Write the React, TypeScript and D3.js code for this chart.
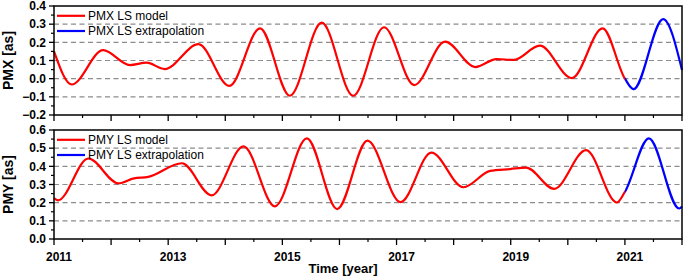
import React from 'react';
import * as d3 from 'd3';

// ---- data ----
const pmxModelT = [2011.0, 2011.31, 2011.86, 2012.33, 2012.62, 2012.94, 2013.53, 2014.07, 2014.61, 2015.13, 2015.69, 2016.24, 2016.78, 2017.31, 2017.85, 2018.38, 2018.75, 2019.05, 2019.51, 2020.07, 2020.61, 2021.0];
const pmxModelV = [0.15, -0.032, 0.157, 0.075, 0.088, 0.053, 0.19, -0.04, 0.277, -0.094, 0.308, -0.094, 0.283, -0.035, 0.204, 0.064, 0.108, 0.103, 0.182, 0.003, 0.277, 0.0];
const pmxExtT = [2021.0, 2021.15, 2021.67, 2022.0];
const pmxExtV = [0.0, -0.058, 0.328, 0.048];

const pmyModelT = [2011.0, 2011.07, 2011.6, 2012.13, 2012.4, 2012.65, 2013.24, 2013.76, 2014.32, 2014.87, 2015.43, 2015.96, 2016.49, 2017.07, 2017.61, 2018.17, 2018.64, 2018.99, 2019.27, 2019.76, 2020.32, 2020.86, 2021.0];
const pmyModelV = [0.225, 0.213, 0.443, 0.306, 0.334, 0.342, 0.417, 0.24, 0.51, 0.18, 0.554, 0.165, 0.541, 0.203, 0.476, 0.285, 0.375, 0.385, 0.393, 0.276, 0.489, 0.201, 0.26];
const pmyExtT = [2021.0, 2021.42, 2021.95, 2022.0];
const pmyExtV = [0.26, 0.554, 0.168, 0.178];

const xMajorYears = [2011, 2012, 2013, 2014, 2015, 2016, 2017, 2018, 2019, 2020, 2021, 2022];
const xMinorYears = [2011.5, 2012.5, 2013.5, 2014.5, 2015.5, 2016.5, 2017.5, 2018.5, 2019.5, 2020.5, 2021.5];
const xLabelYears = [2011, 2013, 2015, 2017, 2019, 2021];
const pmxTicks = [-0.2, -0.1, 0.0, 0.1, 0.2, 0.3, 0.4];
const pmxGrid = [-0.1, 0.0, 0.1, 0.2, 0.3];
const pmyTicks = [0.0, 0.1, 0.2, 0.3, 0.4, 0.5, 0.6];
const pmyGrid = [0.1, 0.2, 0.3, 0.4, 0.5];
const splitYear = 2021.0;

// ---- layout ----
const W = 685, H = 278;
const L = 54, R = 682;
const FONT = "'Liberation Sans', Arial, Helvetica, sans-serif";

const x = d3.scaleLinear().domain([2011, 2022]).range([L, R]);
const fmt = d3.format('.1f');

type PanelProps = {
  id: string;
  top: number;
  bottom: number;
  domain: [number, number];
  ticks: number[];
  grid: number[];
  modelT: number[];
  modelV: number[];
  extT: number[];
  extV: number[];
  ylabel: string;
  legend: [string, string];
  showXLabels: boolean;
};

function Panel(p: PanelProps) {
  const y = d3.scaleLinear().domain(p.domain).range([p.bottom, p.top]);
  const pts: [number, number][] = [];
  p.modelT.forEach((t, i) => pts.push([t, p.modelV[i]]));
  p.extT.forEach((t, i) => {
    if (i === 0 && t === p.modelT[p.modelT.length - 1]) return;
    pts.push([t, p.extV[i]]);
  });
  const line = d3.line<[number, number]>()
    .x(d => x(d[0]))
    .y(d => y(d[1]))
    .curve(d3.curveMonotoneX);
  const path = line(pts) || '';
  const xs = x(splitYear);
  const minorY: number[] = [];
  for (let i = 0; i < p.ticks.length - 1; i++) minorY.push((p.ticks[i] + p.ticks[i + 1]) / 2);
  const midY = (p.top + p.bottom) / 2;
  return (
    <g>
      <defs>
        <clipPath id={`${p.id}-red`}>
          <rect x={L - 5} y={p.top - 10} width={xs - L + 5} height={p.bottom - p.top + 20} />
        </clipPath>
        <clipPath id={`${p.id}-blue`}>
          <rect x={xs} y={p.top - 10} width={R - xs + 5} height={p.bottom - p.top + 20} />
        </clipPath>
      </defs>
      {/* grid */}
      {p.grid.map(g => (
        <line key={g} x1={L} x2={R} y1={y(g)} y2={y(g)} stroke="#8c8c8c" strokeWidth={1.1} strokeDasharray="5,3.5" />
      ))}
      {/* curves */}
      <path d={path} fill="none" stroke="#ff0000" strokeWidth={2.2} clipPath={`url(#${p.id}-red)`} />
      <path d={path} fill="none" stroke="#0000ff" strokeWidth={2.2} clipPath={`url(#${p.id}-blue)`} />
      {/* frame */}
      <rect x={L} y={p.top} width={R - L} height={p.bottom - p.top} fill="none" stroke="#000" strokeWidth={1.5} />
      {/* y ticks */}
      {p.ticks.map(t => (
        <g key={t}>
          <line x1={L - 5} x2={L} y1={y(t)} y2={y(t)} stroke="#000" strokeWidth={1.3} />
          <text x={L - 8} y={y(t)} dy="0.36em" textAnchor="end" fontFamily={FONT} fontWeight="bold" fontSize={12}>{fmt(t)}</text>
        </g>
      ))}
      {minorY.map(t => (
        <line key={t} x1={L - 3} x2={L} y1={y(t)} y2={y(t)} stroke="#000" strokeWidth={1.2} />
      ))}
      {/* x ticks */}
      {xMajorYears.map(t => (
        <line key={t} x1={x(t)} x2={x(t)} y1={p.bottom} y2={p.bottom + 6} stroke="#000" strokeWidth={1.3} />
      ))}
      {xMinorYears.map(t => (
        <line key={t} x1={x(t)} x2={x(t)} y1={p.bottom} y2={p.bottom + 3} stroke="#000" strokeWidth={1.2} />
      ))}
      {p.showXLabels && xLabelYears.map(t => (
        <text key={t} x={x(t) + 5} y={p.bottom + 22} textAnchor="middle" fontFamily={FONT} fontWeight="bold" fontSize={12}>{t}</text>
      ))}
      {/* y label */}
      <text transform={`translate(13,${midY}) rotate(-90)`} textAnchor="middle" fontFamily={FONT} fontWeight="bold" fontSize={14}>{p.ylabel}</text>
      {/* legend */}
      <line x1={57} x2={85} y1={p.top + 9.8} y2={p.top + 9.8} stroke="#ff0000" strokeWidth={2.2} />
      <text x={88} y={p.top + 14} fontFamily={FONT} fontSize={12}>{p.legend[0]}</text>
      <line x1={57} x2={85} y1={p.top + 25} y2={p.top + 25} stroke="#0000ff" strokeWidth={2.2} />
      <text x={88} y={p.top + 29.2} fontFamily={FONT} fontSize={12}>{p.legend[1]}</text>
    </g>
  );
}

export default function App() {
  return (
    <svg width={W} height={H} viewBox={`0 0 ${W} ${H}`} style={{ position: 'absolute', left: 0, top: 0, background: '#fff' }}>
      <rect x={0} y={0} width={W} height={H} fill="#fff" />
      <Panel id="pmx" top={6} bottom={115} domain={[-0.2, 0.4]} ticks={pmxTicks} grid={pmxGrid}
        modelT={pmxModelT} modelV={pmxModelV} extT={pmxExtT} extV={pmxExtV}
        ylabel="PMX [as]" legend={['PMX LS model', 'PMX LS extrapolation']} showXLabels={false} />
      <Panel id="pmy" top={130} bottom={239} domain={[0, 0.6]} ticks={pmyTicks} grid={pmyGrid}
        modelT={pmyModelT} modelV={pmyModelV} extT={pmyExtT} extV={pmyExtV}
        ylabel="PMY [as]" legend={['PMY LS model', 'PMY LS extrapolation']} showXLabels={true} />
      <text x={343} y={273} textAnchor="middle" fontFamily={FONT} fontWeight="bold" fontSize={13}>Time [year]</text>
    </svg>
  );
}
